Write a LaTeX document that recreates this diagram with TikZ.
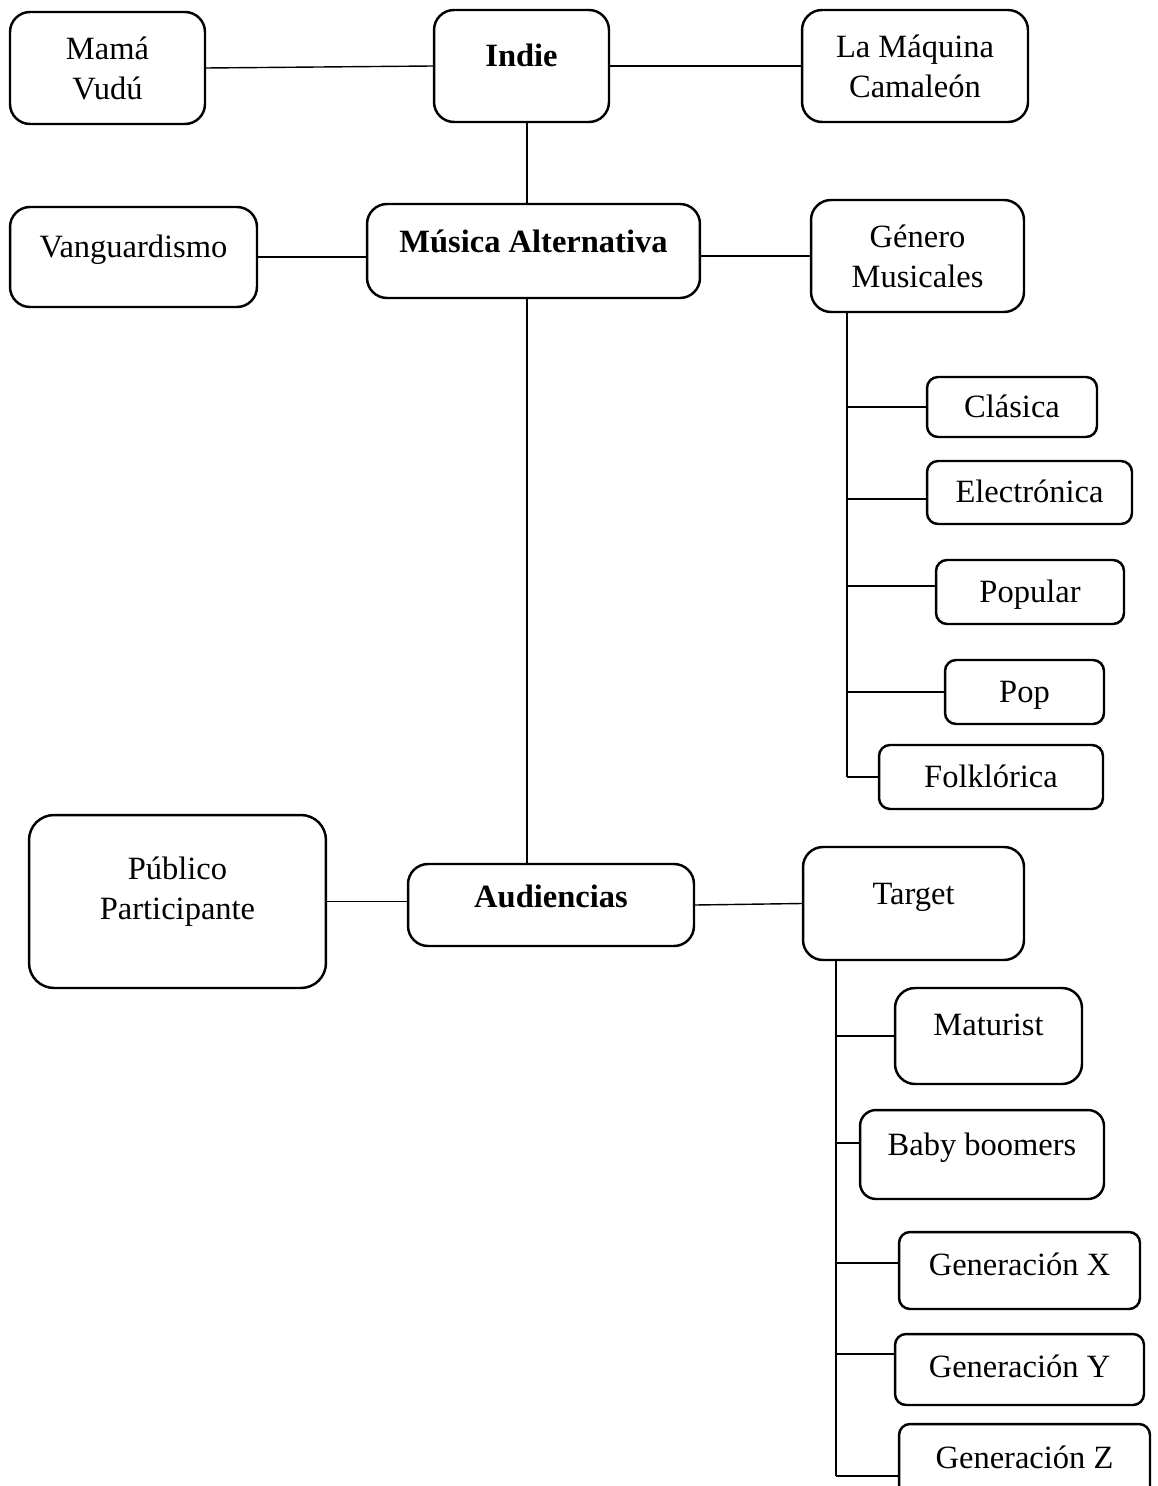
\documentclass[tikz,border=0pt]{standalone}
\usepackage{fontspec}
\setmainfont{Liberation Serif}
\usetikzlibrary{calc}

\begin{document}
\begin{tikzpicture}[x=0.02cm, y=-0.02cm,
    font=\fontsize{18.5}{22.8}\selectfont,
    head/.style={font=\fontsize{18.5}{22.8}\selectfont\bfseries},
    box/.style={draw, line width=1.4pt, rounded corners=0.4cm, align=center, inner sep=0pt},
    small/.style={box, rounded corners=0.22cm},
    tx/.style={text height=0.5cm, text depth=#1}, tx/.default=0.08cm,
    link/.style={line width=0.8pt}]
    \useasboundingbox (0,0) rectangle (1157,1486);
    % top row
    \node[box, minimum width=3.9cm, minimum height=2.24cm] (mama) at (107.5,68) {Mamá\\Vudú};
    \node[box, head, tx=0.48cm, minimum width=3.5cm, minimum height=2.24cm] (indie) at (521.5,66) {Indie};
    \node[box, minimum width=4.52cm, minimum height=2.24cm] (maquina) at (915,66) {La Máquina\\Camaleón};
    % second row
    \node[box, tx=0.48cm, minimum width=4.94cm, minimum height=2cm] (vanguardismo) at (133.5,257) {Vanguardismo};
    \node[box, head, tx=0.44cm, minimum width=6.66cm, minimum height=1.88cm] (musica) at (533.5,251) {Música Alternativa};
    \node[box, minimum width=4.26cm, minimum height=2.24cm] (genero) at (917.5,256) {Género\\Musicales};
    % generos
    \node[small, tx, minimum width=3.4cm, minimum height=1.2cm] (clasica) at (1012,407) {Clásica};
    \node[small, tx, minimum width=4.1cm, minimum height=1.26cm] (electronica) at (1029.5,492.5) {Electrónica};
    \node[small, tx, minimum width=3.76cm, minimum height=1.28cm] (popular) at (1030,592) {Popular};
    \node[small, tx, minimum width=3.18cm, minimum height=1.28cm] (pop) at (1024.5,692) {Pop};
    \node[small, tx, minimum width=4.48cm, minimum height=1.28cm] (folklorica) at (991,777) {Folklórica};
    % audiencias row
    \node[box, rounded corners=0.5cm, text depth=0.55cm, minimum width=5.94cm, minimum height=3.46cm] (publico) at (177.5,901.5) {Público\\Participante};
    \node[box, head, tx=0.40cm, minimum width=5.72cm, minimum height=1.64cm] (audiencias) at (551,905) {Audiencias};
    \node[box, tx=0.48cm, minimum width=4.42cm, minimum height=2.26cm] (target) at (913.5,903.5) {Target};
    % target
    \node[box, tx=0.52cm, minimum width=3.74cm, minimum height=1.92cm] (maturist) at (988.5,1036) {Maturist};
    \node[box, rounded corners=0.32cm, tx=0.48cm, minimum width=4.88cm, minimum height=1.78cm] (baby) at (982,1154.5) {Baby boomers};
    \node[small, tx=0.32cm, minimum width=4.82cm, minimum height=1.54cm] (genx) at (1019.5,1270.5) {Generación X};
    \node[small, tx=0.20cm, minimum width=4.98cm, minimum height=1.42cm] (geny) at (1019.5,1369.5) {Generación Y};
    \node[small, tx=0.32cm, minimum width=5.02cm, minimum height=1.6cm] (genz) at (1024.5,1464) {Generación Z};

    \coordinate (spine) at (527,0);
    \coordinate (gspine) at (847,0);
    \coordinate (tspine) at (836,0);

    \draw[link] (mama.east) -- (indie.west);
    \draw[link] (indie.east) -- (maquina.west);
    \draw[link] (spine |- indie.south) -- (spine |- musica.north);
    \draw[link] (vanguardismo.east) -- (vanguardismo.east -| musica.west);
    \draw[link] (genero.west -| musica.east) -- (genero.west);
    \draw[link] (spine |- musica.south) -- (spine |- audiencias.north);
    \draw[link] (publico.east) -- (publico.east -| audiencias.west);
    \draw[link] (audiencias.east) -- (target.west);

    \foreach \n/\dy in {clasica/0, electronica/6.5, popular/-6, pop/0, folklorica/0} {
      \coordinate (\n-in) at ($(\n.west)+(0,\dy)$);
      \draw[link] (gspine |- \n-in) -- (\n-in);
    }
    \draw[link] (gspine |- genero.south) -- (gspine |- folklorica-in);

    \foreach \n/\dy in {maturist/0, baby/-11.5, genx/-7.5, geny/-15.5, genz/12} {
      \coordinate (\n-in) at ($(\n.west)+(0,\dy)$);
      \draw[link] (tspine |- \n-in) -- (\n-in);
    }
    \draw[link] (tspine |- target.south) -- (tspine |- genz-in);
\end{tikzpicture}
\end{document}
